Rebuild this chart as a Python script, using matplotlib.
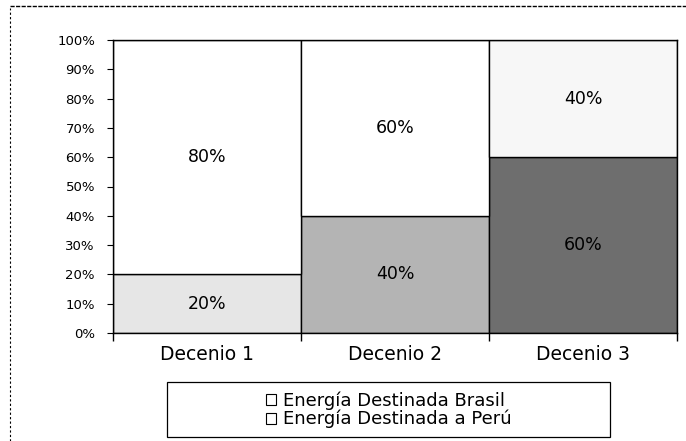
import matplotlib
matplotlib.use("Agg")
import matplotlib.pyplot as plt
from matplotlib.patches import Rectangle, Patch
from matplotlib.lines import Line2D
import numpy as np

categories = ["Decenio 1", "Decenio 2", "Decenio 3"]
brasil = [20, 40, 60]
peru = [80, 60, 40]
series_names = ["Energía Destinada Brasil", "Energía Destinada a Perú"]
yticks = [0, 10, 20, 30, 40, 50, 60, 70, 80, 90, 100]

plt.rcParams['font.family'] = ['DejaVu Sans']

W, H = 686, 441
fig = plt.figure(figsize=(W / 100, H / 100), dpi=100)
ax = fig.add_axes([113 / W, 1 - 333 / H, (677 - 113) / W, (333 - 40) / H])

x = np.arange(len(categories))
bottom_colors = ["#e6e6e6", "#b4b4b4", "#6e6e6e"]
top_colors = ["#ffffff", "#ffffff", "#f7f7f7"]

ax.bar(x, brasil, width=1.0, color=bottom_colors, edgecolor="black", linewidth=1.0)
ax.bar(x, peru, width=1.0, bottom=brasil, color=top_colors, edgecolor="black", linewidth=1.0)

for i in range(len(categories)):
    ax.text(x[i], brasil[i] / 2, f"{brasil[i]}%", ha="center", va="center", fontsize=12.5)
    ax.text(x[i], brasil[i] + peru[i] / 2, f"{peru[i]}%", ha="center", va="center", fontsize=12.5)

ax.set_xlim(-0.5, len(categories) - 0.5)
ax.set_ylim(0, 100)
ax.set_yticks(yticks)
ax.set_yticklabels([f"{v}%" for v in yticks], fontsize=9.5)
ax.set_xticks(x)
ax.set_xticklabels(categories, fontsize=13.5)
ax.tick_params(axis="x", length=0, pad=9)
ax.set_xticks(np.arange(-0.5, len(categories), 1.0), minor=True)
ax.tick_params(axis="x", which="minor", length=6, width=1, direction="out")
ax.tick_params(axis="y", length=4, width=0.8, direction="out", pad=9)
for s in ax.spines.values():
    s.set_linewidth(1.0)

# legend frame
frame = Rectangle((167 / W, 1 - 437 / H), (610 - 167) / W, (437 - 382) / H,
                  transform=fig.transFigure, fill=False, edgecolor="black", linewidth=0.9)
fig.patches.append(frame)

handles = [Patch(facecolor="white", edgecolor="black", linewidth=0.8, label=series_names[0]),
           Patch(facecolor="white", edgecolor="black", linewidth=0.8, label=series_names[1])]
leg = fig.legend(handles=handles, loc="center", bbox_to_anchor=(389 / W, 1 - 410 / H),
                 fontsize=13, frameon=False,
                 handlelength=0.55, handleheight=0.55, handletextpad=0.4,
                 borderpad=0.0, labelspacing=0.0)

# dashed outer border (left and top)
fig.add_artist(Line2D([10 / W, 10 / W], [0, 1 - 8 / H], transform=fig.transFigure,
                      color="black", linestyle=(0, (2, 2)), linewidth=0.8))
fig.add_artist(Line2D([10 / W, 1], [1 - 6 / H, 1 - 6 / H], transform=fig.transFigure,
                      color="black", linestyle=(0, (3, 1)), linewidth=1.0))

fig.savefig("out.png", dpi=100)
